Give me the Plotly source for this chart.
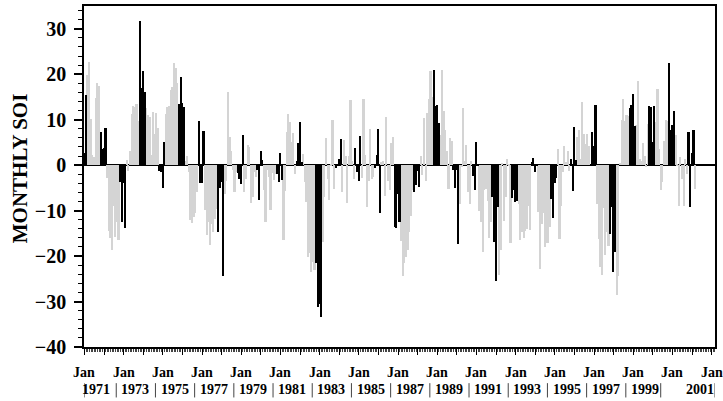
import plotly.graph_objects as go

# Monthly SOI, Jan 1971 - Mar 2002 (one list per year, Jan..Dec)
soi_1971 = [2.7, 15.5, 19.9, 22.6, 10.1, 2.2, 1.8, 14.8, 18.1, 17.5, 7.3, 3.6]
soi_1972 = [3.7, 8.1, -2.9, -14.5, -16.1, -18.7, -9.0, -15.8, -12.6, -16.5, -3.7, -12.5]
soi_1973 = [-3.9, -13.8, 1.1, -1.2, 3.1, 11.2, 13.0, 12.7, 13.4, 9.8, 31.6, 16.9]
soi_1974 = [20.8, 16.1, 12.5, 11.1, 10.6, 2.2, 11.7, 6.9, 11.5, 8.1, -1.2, -1.6]
soi_1975 = [-5.1, 5.0, 11.3, 12.8, 13.0, 16.5, 17.2, 22.5, 21.3, 18.0, 13.5, 19.3]
soi_1976 = [13.6, 12.7, 1.0, 2.0, -1.5, -12.0, -12.7, -11.5, -10.5, -6.0, 9.7, -4.0]
soi_1977 = [-4.0, 7.5, -9.8, -15.4, -12.6, -17.6, -13.0, -14.6, -11.8, -9.7, -14.8, -5.0]
soi_1978 = [-3.7, -24.4, -6.4, -3.5, 16.1, 6.2, 3.1, -1.0, -6.0, -1.5, -1.8, -3.0]
soi_1979 = [-4.2, 6.6, -5.8, -3.0, 4.5, 4.0, -8.4, -7.0, -1.5, -2.5, -1.0, -7.7]
soi_1980 = [3.0, 1.2, -5.5, -12.5, -1.0, -2.5, -9.9, -1.7, -3.3, -2.0, -2.0, -3.7]
soi_1981 = [2.7, -3.2, -16.5, -5.6, 7.2, 11.3, 9.5, 5.0, 7.0, -2.0, 1.0, 4.8]
soi_1982 = [9.4, 0.6, 2.4, -3.8, -8.2, -20.1, -19.3, -23.6, -21.4, -23.1, -21.6, -31.1]
soi_1983 = [-30.6, -33.3, -17.0, -7.0, 6.0, -3.1, -7.6, 0.1, 9.9, -5.3, -0.7, 0.1]
soi_1984 = [1.3, 5.8, -5.9, 5.5, 2.0, -8.4, 2.0, 14.3, 1.0, -3.0, 3.7, -1.4]
soi_1985 = [-3.5, 6.5, -2.9, 14.6, 2.3, -9.2, -3.5, 8.0, -3.0, -2.7, -0.7, 2.2]
soi_1986 = [8.0, -10.6, 0.6, 1.0, -6.8, 10.6, -3.5, -5.5, 4.9, 6.2, -13.7, -13.9]
soi_1987 = [-6.3, -12.6, -16.6, -24.4, -21.6, -20.1, -18.6, -14.8, -11.2, -5.4, -6.0, -4.3]
soi_1988 = [-1.2, -4.9, 2.0, -2.1, 10.3, -3.5, 11.4, 14.5, 20.8, 14.9, 21.0, 13.1]
soi_1989 = [13.2, 9.2, 6.7, 21.0, 12.0, 7.7, 3.0, -5.2, 6.0, 5.3, -1.1, -5.1]
soi_1990 = [-1.1, -17.3, -8.5, -0.5, 12.5, 1.0, 4.4, -6.0, -8.5, 1.0, -2.4, -5.5]
soi_1991 = [5.1, 0.3, -10.1, -12.5, -19.0, -5.4, -5.3, -7.8, -16.1, -12.5, -6.9, -16.9]
soi_1992 = [-25.4, -9.3, -24.2, -18.7, 0.5, -12.3, -6.9, 1.3, 0.1, -17.2, -7.3, -5.5]
soi_1993 = [-8.2, -7.9, -8.5, -16.5, -14.6, -16.0, -14.4, -14.1, -8.9, -14.3, 0.6, 1.6]
soi_1994 = [-1.6, 0.1, -10.4, -22.8, -13.0, -10.5, -18.0, -17.2, -17.2, -13.7, -7.4, -11.6]
soi_1995 = [-4.0, -2.8, 3.5, -16.2, -9.0, -1.5, 4.2, 0.8, 3.1, -1.3, 1.3, -5.6]
soi_1996 = [8.4, 1.1, 6.2, 7.8, 1.3, 13.9, 6.8, 4.6, 6.9, 4.2, -0.1, 7.2]
soi_1997 = [4.1, 13.3, -8.5, -16.2, -22.4, -24.1, -9.5, -19.8, -14.8, -17.8, -15.2, -9.1]
soi_1998 = [-23.5, -19.2, -28.5, -24.4, 0.5, 9.9, 14.6, 9.8, 11.1, 10.9, 12.5, 13.3]
soi_1999 = [15.6, 8.6, 8.9, 18.5, 1.3, 1.0, 4.8, 2.1, -0.4, 9.1, 13.1, 12.8]
soi_2000 = [5.1, 12.9, 9.4, 16.8, 3.6, -5.5, -3.7, 5.3, 9.9, 9.7, 22.4, 7.7]
soi_2001 = [8.9, 11.9, 6.7, 0.3, -9.0, 1.8, -3.0, -8.9, 1.4, -1.9, 7.2, -9.1]
soi_2002 = [2.6, 7.7, -5.2]

start_year = 1971
highlight_months = [11, 12, 1, 2]   # Nov-Feb drawn in black

y_tick_values = [-40, -30, -20, -10, 0, 10, 20, 30]
jan_label_years = list(range(1971, 2004, 2))
year_label_years = list(range(1971, 2002, 2))

years_data = [soi_1971, soi_1972, soi_1973, soi_1974, soi_1975, soi_1976, soi_1977,
              soi_1978, soi_1979, soi_1980, soi_1981, soi_1982, soi_1983, soi_1984,
              soi_1985, soi_1986, soi_1987, soi_1988, soi_1989, soi_1990, soi_1991,
              soi_1992, soi_1993, soi_1994, soi_1995, soi_1996, soi_1997, soi_1998,
              soi_1999, soi_2000, soi_2001, soi_2002]

gx, gy, bx, by = [], [], [], []
for i, row in enumerate(years_data):
    yr = start_year + i
    for m, v in enumerate(row):
        xv = yr + m / 12.0
        if (m + 1) in highlight_months:
            bx.append(xv); by.append(v)
        else:
            gx.append(xv); gy.append(v)

fig = go.Figure()
fig.add_trace(go.Bar(x=gx, y=gy, width=1/12, marker=dict(color="#d4d4d4", line=dict(width=0)),
                     showlegend=False))
fig.add_trace(go.Bar(x=bx, y=by, width=1/12, marker=dict(color="#000000", line=dict(width=0)),
                     showlegend=False))

font_family = "Liberation Serif, Times New Roman, serif"

fig.update_layout(
    width=723, height=401,
    margin=dict(l=84, r=8, t=6, b=54, autoexpand=False),
    paper_bgcolor="white", plot_bgcolor="white",
    barmode="overlay", bargap=0,
    font=dict(family=font_family, color="black"),
    showlegend=False,
)

fig.update_yaxes(
    range=[-40, 35], tickvals=y_tick_values, automargin=False,
    ticks="outside", ticklen=8, tickwidth=1.5, tickcolor="black",
    minor=dict(dtick=2, tick0=0, ticks="outside", ticklen=4, tickcolor="black", tickwidth=1),
    showgrid=False, zeroline=True, zerolinecolor="black", zerolinewidth=1.5,
    showline=True, linecolor="black", linewidth=1.5, mirror=True,
    tickfont=dict(family=font_family, size=20, color="black", weight="bold"),
    ticklabelstandoff=4,
)

fig.update_xaxes(
    range=[1970.975, 2003.17], automargin=False,
    tickmode="linear", tick0=1971, dtick=1,
    ticks="outside", ticklen=6, tickwidth=1, tickcolor="black",
    minor=dict(dtick=1/12, tick0=1971, ticks="outside", ticklen=3, tickcolor="#444", tickwidth=1),
    showticklabels=False, showgrid=False, zeroline=False,
    showline=True, linecolor="black", linewidth=1.5, mirror=True,
)

# y-axis title
fig.add_annotation(x=-0.101, y=0.525, xref="paper", yref="paper", text="<b>MONTHLY SOI</b>",
                   textangle=-90, showarrow=False,
                   font=dict(family=font_family, size=21, color="black"),
                   xanchor="center", yanchor="middle")

for y in jan_label_years:
    fig.add_annotation(x=y, y=-0.0754, xref="x", yref="paper", text="<b>Jan</b>", showarrow=False,
                       font=dict(family=font_family, size=14, color="black"),
                       xanchor="center", yanchor="middle")
for y in year_label_years:
    xc = y + 0.6 if y != 2001 else 2002.38
    fig.add_annotation(x=xc, y=-0.126, xref="x", yref="paper", text="<b>%d</b>" % y, showarrow=False,
                       font=dict(family=font_family, size=14, color="black"),
                       xanchor="center", yanchor="middle")

sep_x = [1970.98] + [y - 0.38 for y in range(1973, 2001, 2)] + [2000.40, 2003.17]
for sx in sep_x:
    fig.add_shape(type="line", xref="x", yref="paper", x0=sx, x1=sx, y0=-0.106, y1=-0.148,
                  line=dict(color="#444", width=1))

fig.write_html("out.html", config={"displayModeBar": False},
               post_script="document.body.style.margin='0px';")
